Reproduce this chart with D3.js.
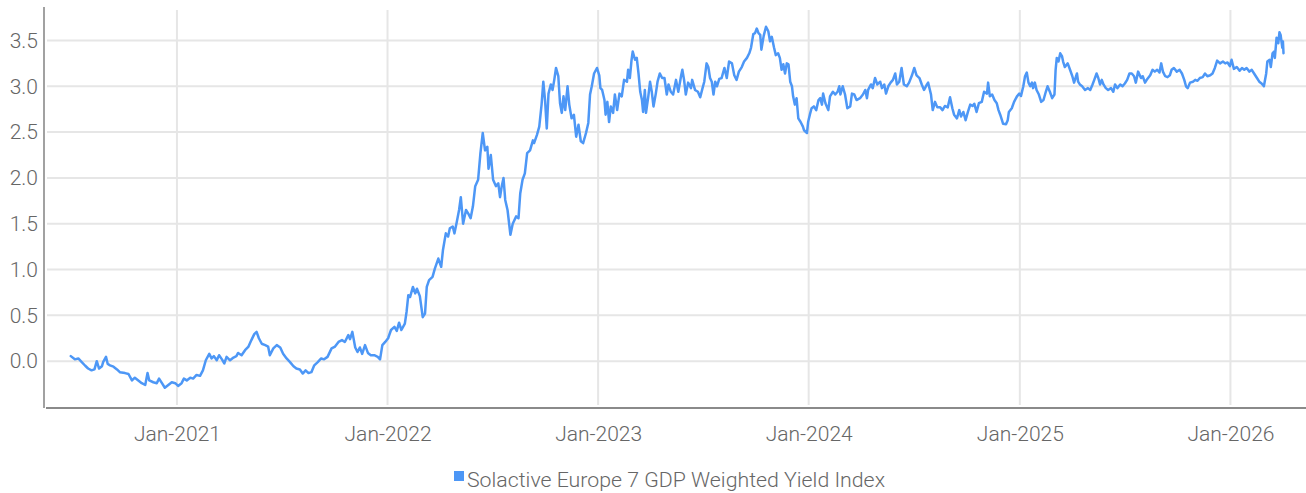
<!DOCTYPE html>
<html>
<head>
<meta charset="utf-8">
<script src="https://cdn.jsdelivr.net/npm/d3@7"></script>
<style>
  html, body { margin: 0; padding: 0; background: #fff; }
  #chart { width: 1306px; height: 493px; }
  text { font-family: Roboto, "Noto Sans", sans-serif; font-weight: 300; fill: #666; }
</style>
</head>
<body>
<div id="chart"></div>
<script>
// Series name
const seriesName = "Solactive Europe 7 GDP Weighted Yield Index";

// Y tick values and x tick labels
const yTicks = [0, 0.5, 1.0, 1.5, 2.0, 2.5, 3.0, 3.5];
const xTickDates = ["2021-01-01", "2022-01-01", "2023-01-01", "2024-01-01", "2025-01-01", "2026-01-01"];

const dates = [
  // 2020
  "2020-07-01","2020-07-08","2020-07-14","2020-07-20","2020-07-26","2020-07-31",
  "2020-08-06","2020-08-11","2020-08-15","2020-08-19","2020-08-24","2020-08-26","2020-08-31",
  "2020-09-03","2020-09-07","2020-09-13","2020-09-19","2020-09-24",
  "2020-10-03","2020-10-09","2020-10-15","2020-10-20","2020-10-26",
  "2020-11-01","2020-11-07","2020-11-11","2020-11-14","2020-11-21","2020-11-27",
  "2020-12-01","2020-12-06","2020-12-11","2020-12-17","2020-12-23","2020-12-29",
  // 2021
  "2021-01-03","2021-01-09","2021-01-13","2021-01-18","2021-01-24","2021-01-29",
  "2021-02-04","2021-02-10","2021-02-15","2021-02-20","2021-02-26",
  "2021-03-02","2021-03-06","2021-03-11","2021-03-15","2021-03-20","2021-03-24","2021-03-28",
  "2021-04-03","2021-04-09","2021-04-14","2021-04-17","2021-04-23","2021-04-29",
  "2021-05-05","2021-05-10","2021-05-15","2021-05-19","2021-05-23","2021-05-28",
  "2021-06-03","2021-06-08","2021-06-11","2021-06-17","2021-06-23","2021-06-29",
  "2021-07-04","2021-07-10","2021-07-16","2021-07-22","2021-07-27",
  "2021-08-02","2021-08-07","2021-08-12","2021-08-17","2021-08-22","2021-08-27",
  "2021-09-02","2021-09-08","2021-09-13","2021-09-19","2021-09-26",
  "2021-10-02","2021-10-08","2021-10-14","2021-10-19","2021-10-25","2021-10-28",
  "2021-11-01","2021-11-06","2021-11-10","2021-11-14","2021-11-18","2021-11-23","2021-11-28",
  "2021-12-03","2021-12-09","2021-12-15","2021-12-19","2021-12-23","2021-12-28",
  // 2022
  "2022-01-02","2022-01-07","2022-01-13","2022-01-17","2022-01-21","2022-01-25","2022-01-31",
  "2022-02-03","2022-02-06","2022-02-09","2022-02-14","2022-02-18","2022-02-21","2022-02-26",
  "2022-03-03","2022-03-07","2022-03-10","2022-03-14","2022-03-20","2022-03-24","2022-03-30",
  "2022-04-04","2022-04-07","2022-04-12","2022-04-16","2022-04-19","2022-04-24","2022-04-27",
  "2022-05-01","2022-05-05","2022-05-08","2022-05-12","2022-05-17","2022-05-21","2022-05-25","2022-05-29",
  "2022-06-02","2022-06-07","2022-06-11","2022-06-15","2022-06-19","2022-06-23","2022-06-25","2022-06-29",
  "2022-07-03","2022-07-08","2022-07-12","2022-07-15","2022-07-18","2022-07-21","2022-07-24","2022-07-28",
  "2022-08-02","2022-08-06","2022-08-12","2022-08-16","2022-08-19","2022-08-23","2022-08-27","2022-08-31",
  "2022-09-05","2022-09-10","2022-09-12","2022-09-17","2022-09-21","2022-09-25","2022-09-28",
  "2022-10-01","2022-10-04","2022-10-07","2022-10-11","2022-10-14","2022-10-17","2022-10-20","2022-10-24","2022-10-27","2022-10-30",
  "2022-11-02","2022-11-05","2022-11-09","2022-11-12","2022-11-16","2022-11-20","2022-11-24","2022-11-28",
  "2022-12-02","2022-12-06","2022-12-11","2022-12-15","2022-12-18","2022-12-21","2022-12-25","2022-12-30",
  // 2023
  "2023-01-03","2023-01-05","2023-01-08","2023-01-12","2023-01-14","2023-01-17","2023-01-20","2023-01-23","2023-01-27","2023-01-30",
  "2023-02-03","2023-02-07","2023-02-11","2023-02-15","2023-02-20","2023-02-22","2023-02-25","2023-02-28",
  "2023-03-02","2023-03-06","2023-03-09","2023-03-12","2023-03-15","2023-03-18","2023-03-20","2023-03-23","2023-03-25","2023-03-29",
  "2023-04-01","2023-04-04","2023-04-07","2023-04-11","2023-04-14","2023-04-18","2023-04-22","2023-04-26","2023-04-30",
  "2023-05-03","2023-05-07","2023-05-11","2023-05-16","2023-05-20","2023-05-25","2023-05-27","2023-05-30",
  "2023-06-02","2023-06-06","2023-06-11","2023-06-13","2023-06-18","2023-06-23","2023-06-27",
  "2023-07-01","2023-07-04","2023-07-08","2023-07-11","2023-07-14","2023-07-17","2023-07-20","2023-07-23","2023-07-26","2023-07-30",
  "2023-08-03","2023-08-08","2023-08-12","2023-08-16","2023-08-21","2023-08-25","2023-08-29",
  "2023-09-02","2023-09-07","2023-09-11","2023-09-16","2023-09-20","2023-09-23","2023-09-27","2023-09-30",
  "2023-10-03","2023-10-06","2023-10-09","2023-10-11","2023-10-15","2023-10-19","2023-10-23","2023-10-26","2023-10-29",
  "2023-11-02","2023-11-05","2023-11-09","2023-11-12","2023-11-15","2023-11-18","2023-11-21","2023-11-24","2023-11-27","2023-11-30",
  "2023-12-03","2023-12-05","2023-12-08","2023-12-11","2023-12-14","2023-12-18","2023-12-22","2023-12-24","2023-12-29","2023-12-31",
  // 2024
  "2024-01-03","2024-01-06","2024-01-10","2024-01-14","2024-01-18","2024-01-21","2024-01-24","2024-01-26","2024-01-30",
  "2024-02-04","2024-02-07","2024-02-12","2024-02-16","2024-02-20","2024-02-23","2024-02-25","2024-02-29",
  "2024-03-04","2024-03-08","2024-03-13","2024-03-16","2024-03-20","2024-03-24","2024-03-30",
  "2024-04-04","2024-04-08","2024-04-11","2024-04-13","2024-04-18","2024-04-21","2024-04-25","2024-04-29",
  "2024-05-04","2024-05-07","2024-05-11","2024-05-14","2024-05-18","2024-05-22","2024-05-26","2024-05-30",
  "2024-06-02","2024-06-06","2024-06-10","2024-06-14","2024-06-19","2024-06-23","2024-06-28",
  "2024-07-02","2024-07-06","2024-07-11","2024-07-15","2024-07-19","2024-07-24","2024-07-26","2024-07-31",
  "2024-08-03","2024-08-07","2024-08-11","2024-08-16","2024-08-20","2024-08-24","2024-08-29",
  "2024-09-02","2024-09-06","2024-09-09","2024-09-14","2024-09-18","2024-09-21","2024-09-25","2024-09-29",
  "2024-10-03","2024-10-07","2024-10-11","2024-10-14","2024-10-18","2024-10-22","2024-10-27","2024-10-31",
  "2024-11-05","2024-11-07","2024-11-10","2024-11-14","2024-11-18","2024-11-22","2024-11-25","2024-11-28",
  "2024-12-01","2024-12-03","2024-12-08","2024-12-11","2024-12-13","2024-12-18","2024-12-22","2024-12-27","2024-12-31",
  // 2025
  "2025-01-03","2025-01-07","2025-01-10","2025-01-13","2025-01-16","2025-01-19","2025-01-22","2025-01-24","2025-01-27","2025-01-30",
  "2025-02-03","2025-02-07","2025-02-11","2025-02-15","2025-02-18","2025-02-22","2025-02-26",
  "2025-03-02","2025-03-04","2025-03-06","2025-03-09","2025-03-12","2025-03-15","2025-03-17","2025-03-20","2025-03-25","2025-03-29",
  "2025-04-02","2025-04-05","2025-04-10","2025-04-12","2025-04-15","2025-04-19","2025-04-24","2025-04-29",
  "2025-05-03","2025-05-07","2025-05-10","2025-05-14","2025-05-17","2025-05-20","2025-05-23","2025-05-26","2025-05-30",
  "2025-06-03","2025-06-08","2025-06-12","2025-06-15","2025-06-19","2025-06-24","2025-06-28",
  "2025-07-02","2025-07-06","2025-07-10","2025-07-14","2025-07-18","2025-07-21","2025-07-25","2025-07-30",
  "2025-08-02","2025-08-06","2025-08-10","2025-08-15","2025-08-19","2025-08-23","2025-08-27","2025-08-31",
  "2025-09-03","2025-09-06","2025-09-10","2025-09-14","2025-09-18","2025-09-21","2025-09-25","2025-09-30",
  "2025-10-05","2025-10-09","2025-10-13","2025-10-16","2025-10-19","2025-10-23","2025-10-28",
  "2025-11-01","2025-11-05","2025-11-09","2025-11-14","2025-11-18","2025-11-22","2025-11-27",
  "2025-12-01","2025-12-05","2025-12-09","2025-12-14","2025-12-19","2025-12-23","2025-12-27","2025-12-31",
  // 2026
  "2026-01-03","2026-01-07","2026-01-12","2026-01-17","2026-01-21","2026-01-25","2026-01-29",
  "2026-02-03","2026-02-07","2026-02-11","2026-02-16","2026-02-20","2026-02-24","2026-02-28",
  "2026-03-04","2026-03-06","2026-03-10","2026-03-12","2026-03-15","2026-03-18","2026-03-19","2026-03-22","2026-03-25","2026-03-27","2026-03-29",
  "2026-04-01","2026-04-02","2026-04-03"
];

// Index yield (%), same order as dates
const yields = [
  // 2020
  0.055, 0.02, 0.03, -0.01, -0.05, -0.08,
  -0.10, -0.09, 0.00, -0.08, -0.055, -0.01, 0.047,
  -0.03, -0.045, -0.06, -0.09, -0.12,
  -0.13, -0.14, -0.21, -0.18, -0.21,
  -0.24, -0.26, -0.13, -0.21, -0.23, -0.24,
  -0.19, -0.24, -0.29, -0.26, -0.23, -0.24,
  // 2021
  -0.27, -0.24, -0.19, -0.21, -0.18, -0.19,
  -0.15, -0.16, -0.10, 0.01, 0.08,
  0.03, 0.055, 0.01, 0.065, 0.02, -0.025, 0.047,
  0.01, 0.04, 0.055, 0.09, 0.065, 0.12,
  0.16, 0.23, 0.295, 0.32, 0.25, 0.19,
  0.175, 0.16, 0.065, 0.14, 0.175, 0.15,
  0.08, 0.03, -0.01, -0.055, -0.08,
  -0.09, -0.135, -0.10, -0.13, -0.12, -0.045,
  -0.01, 0.03, 0.02, 0.047, 0.14,
  0.16, 0.21, 0.23, 0.21, 0.285, 0.24,
  0.32, 0.15, 0.10, 0.15, 0.08, 0.175, 0.09,
  0.065, 0.065, 0.047, 0.02, 0.175, 0.21,
  // 2022
  0.25, 0.34, 0.375, 0.33, 0.42, 0.34, 0.41,
  0.54, 0.72, 0.70, 0.81, 0.74, 0.79, 0.71,
  0.48, 0.52, 0.81, 0.885, 0.92, 1.01, 1.12,
  1.03, 1.21, 1.395, 1.36, 1.45, 1.47, 1.395,
  1.52, 1.65, 1.79, 1.50, 1.65, 1.61, 1.56, 1.69,
  1.91, 1.98, 2.27, 2.49, 2.30, 2.34, 2.10, 2.25,
  1.98, 1.91, 1.94, 1.79, 1.91, 2.00, 1.76, 1.65,
  1.38, 1.50, 1.58, 1.56, 1.83, 1.98, 2.05, 2.27,
  2.30, 2.41, 2.38, 2.47, 2.56, 2.80, 3.05,
  2.85, 2.54, 2.92, 3.02, 2.96, 3.07, 3.20, 3.11, 2.815, 2.71,
  2.89, 2.74, 3.00, 2.80, 2.65, 2.69, 2.45, 2.58,
  2.40, 2.38, 2.49, 2.60, 2.91, 3.00, 3.14, 3.20,
  // 2023
  3.12, 2.98, 2.96, 2.85, 2.69, 2.83, 2.61, 2.78, 2.71, 2.91,
  2.74, 2.92, 2.89, 3.07, 3.05, 3.18, 3.09, 3.29,
  3.38, 3.29, 3.31, 3.14, 2.94, 2.85, 2.72, 2.96, 2.71, 2.89,
  3.05, 2.94, 2.78, 2.92, 3.05, 3.14, 3.09, 3.09, 2.91,
  3.02, 2.94, 2.91, 3.07, 2.94, 3.12, 3.18, 3.07,
  2.91, 3.04, 2.98, 3.07, 2.96, 2.94, 2.88,
  2.98, 3.05, 3.25, 3.21, 3.09, 3.05, 2.91, 3.05, 3.00, 3.08,
  3.09, 3.20, 3.09, 3.27, 3.25, 3.12, 3.07,
  3.16, 3.21, 3.27, 3.31, 3.36, 3.42, 3.57, 3.58,
  3.63, 3.58, 3.56, 3.40, 3.55, 3.65, 3.60, 3.49, 3.54,
  3.42, 3.34, 3.36, 3.31, 3.18, 3.24, 3.14, 3.25, 3.24, 3.05,
  3.00, 2.89, 2.80, 2.87, 2.65, 2.61, 2.56, 2.52, 2.49, 2.61,
  // 2024
  2.69, 2.76, 2.78, 2.74, 2.85, 2.87, 2.80, 2.92, 2.815,
  2.74, 2.89, 2.94, 2.91, 2.94, 3.00, 2.91, 3.00,
  2.91, 2.76, 2.78, 2.92, 2.91, 2.85, 2.87,
  2.91, 2.96, 2.87, 2.96, 3.02, 2.98, 3.09, 3.02,
  3.05, 2.98, 3.02, 2.92, 3.00, 3.04, 3.07, 3.14,
  3.02, 3.05, 3.20, 3.02, 3.00, 3.04, 3.12,
  3.20, 3.12, 3.09, 3.02, 2.96, 3.02, 3.04, 2.91,
  2.74, 2.83, 2.77, 2.77, 2.74, 2.785, 2.77,
  2.88, 2.76, 2.69, 2.65, 2.74, 2.67, 2.72, 2.63,
  2.72, 2.80, 2.785, 2.81, 2.72, 2.815, 2.83, 2.94,
  2.92, 3.04, 2.89, 2.91, 2.85, 2.815, 2.74, 2.69,
  2.63, 2.59, 2.585, 2.63, 2.72, 2.76, 2.83, 2.89, 2.92,
  // 2025
  2.895, 3.00, 3.11, 3.15, 3.04, 3.00, 3.04, 2.98, 3.04, 2.96,
  2.91, 2.83, 2.85, 2.94, 3.00, 2.94, 2.87,
  2.91, 3.18, 3.31, 3.27, 3.36, 3.33, 3.27, 3.21, 3.25, 3.18,
  3.11, 3.04, 3.14, 3.05, 3.02, 3.00, 2.96, 2.98,
  2.96, 3.02, 3.07, 3.14, 3.09, 3.02, 3.07, 3.02, 2.98,
  2.96, 2.98, 2.94, 3.02, 2.98, 3.02, 3.00,
  3.03, 3.07, 3.14, 3.14, 3.11, 3.04, 3.16, 3.09,
  3.11, 3.04, 3.08, 3.12, 3.18, 3.16, 3.18, 3.15,
  3.25, 3.16, 3.11, 3.10, 3.12, 3.18, 3.20, 3.16,
  3.18, 3.14, 3.07, 3.00, 2.98, 3.04, 3.05,
  3.07, 3.06, 3.09, 3.10, 3.14, 3.11, 3.12,
  3.14, 3.20, 3.28, 3.25, 3.27, 3.25, 3.26, 3.22,
  // 2026
  3.29, 3.19, 3.21, 3.17, 3.20, 3.18, 3.20,
  3.16, 3.18, 3.14, 3.09, 3.05, 3.03, 3.00,
  3.14, 3.27, 3.29, 3.21, 3.36, 3.38, 3.31, 3.53, 3.47, 3.59, 3.56,
  3.42, 3.49, 3.36
];

if (dates.length !== yields.length) console.warn("length mismatch", dates.length, yields.length);

const parseDate = d3.timeParse("%Y-%m-%d");
const data = dates.map((d, i) => ({ date: parseDate(d), value: yields[i] }));

// Chart size and plot box
const width = 1306;
const height = 493;
const plot = { left: 46, right: 1306, top: 8.4, bottom: 407 };

const svg = d3
  .select("#chart")
  .append("svg")
  .attr("width", width)
  .attr("height", height);

// Scales
const x = d3
  .scaleTime()
  .domain([parseDate("2020-05-19"), parseDate("2026-05-12")])
  .range([plot.left, plot.right]);

const y = d3.scaleLinear().domain([-0.5, 3.85]).range([plot.bottom, plot.top]);

// Horizontal grid lines
svg
  .append("g")
  .selectAll("line")
  .data(yTicks)
  .enter()
  .append("line")
  .attr("x1", 47)
  .attr("x2", plot.right)
  .attr("y1", (d) => y(d))
  .attr("y2", (d) => y(d))
  .attr("stroke", "#e6e6e6")
  .attr("stroke-width", 2);

// Vertical grid lines at each January
svg
  .append("g")
  .selectAll("line")
  .data(xTickDates.map(parseDate))
  .enter()
  .append("line")
  .attr("x1", (d) => x(d))
  .attr("x2", (d) => x(d))
  .attr("y1", 10)
  .attr("y2", 405)
  .attr("stroke", "#e6e6e6")
  .attr("stroke-width", 2);

// Axis lines
svg
  .append("line")
  .attr("x1", 44)
  .attr("x2", 44)
  .attr("y1", 7)
  .attr("y2", 408)
  .attr("stroke", "#8a8a8a")
  .attr("stroke-width", 1.6);

svg
  .append("line")
  .attr("x1", 46)
  .attr("x2", plot.right)
  .attr("y1", 408)
  .attr("y2", 408)
  .attr("stroke", "#8a8a8a")
  .attr("stroke-width", 2);

// Y tick labels
const yAxis = svg
  .append("g")
  .attr("transform", "translate(44,0)")
  .call(d3.axisLeft(y).tickValues(yTicks).tickSize(0).tickPadding(6).tickFormat(d3.format(".1f")));
yAxis.select(".domain").remove();
yAxis.selectAll("text").attr("font-size", 21).attr("font-family", null).attr("fill", "#666");

// X tick labels
const xAxis = svg
  .append("g")
  .attr("transform", "translate(0,408)")
  .call(
    d3
      .axisBottom(x)
      .tickValues(xTickDates.map(parseDate))
      .tickSize(0)
      .tickPadding(18)
      .tickFormat(d3.timeFormat("%b-%Y"))
  );
xAxis.select(".domain").remove();
xAxis.selectAll("text").attr("font-size", 21).attr("font-family", null).attr("fill", "#666");

// The series line
const line = d3
  .line()
  .x((d) => x(d.date))
  .y((d) => y(d.value));

svg
  .append("path")
  .datum(data)
  .attr("fill", "none")
  .attr("stroke", "#4d97f6")
  .attr("stroke-width", 2.5)
  .attr("stroke-linejoin", "round")
  .attr("stroke-linecap", "round")
  .attr("d", line);

// Legend
const legend = svg.append("g").attr("transform", "translate(454,471)");
legend.append("rect").attr("width", 10).attr("height", 10).attr("fill", "#4d97f6");
legend
  .append("text")
  .attr("x", 13)
  .attr("y", 16)
  .attr("font-size", 21)
  .attr("textLength", 418)
  .attr("lengthAdjust", "spacingAndGlyphs")
  .attr("fill", "#666")
  .text(seriesName);
</script>
</body>
</html>
